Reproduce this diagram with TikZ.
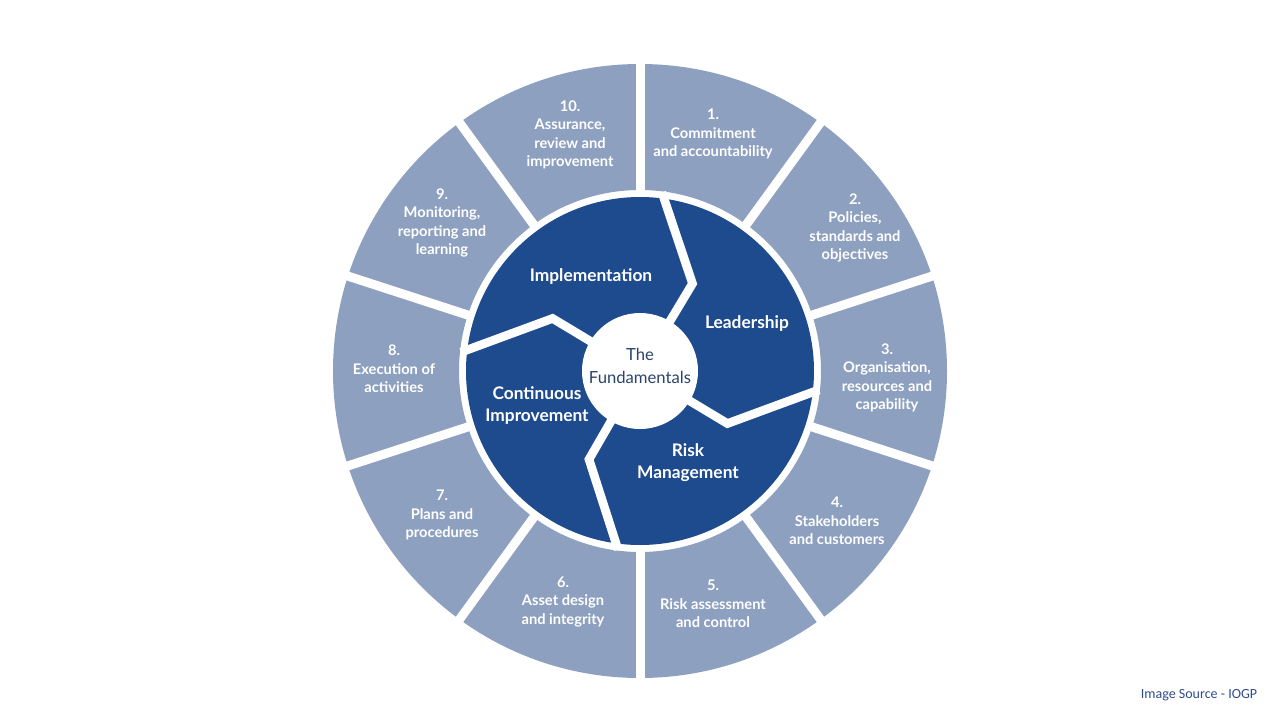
\documentclass[tikz,border=0pt]{standalone}
\usepackage{fontspec}
\setmainfont{Lato}
\newfontfamily\creditfont{Carlito}
\usetikzlibrary{calc}
\definecolor{ring}{RGB}{141,160,192}
\definecolor{core}{RGB}{29,75,141}
\definecolor{hubtext}{RGB}{43,68,110}
\definecolor{credit}{RGB}{46,76,140}
\tikzset{
    element/.style={align=center, text=white, inner sep=0pt, font=\fontsize{11}{13.8}\selectfont\bfseries},
    pillar/.style={align=center, text=white, inner sep=0pt, font=\fontsize{13}{16.5}\selectfont\bfseries},
    hublabel/.style={align=center, text=hubtext, inner sep=0pt, font=\fontsize{12.5}{17}\selectfont},
    gap/.style={white, line width=6.75pt},
    divider/.style={white, line width=6.5pt, line join=miter}
}

\begin{document}
\begin{tikzpicture}[x=0.75pt, y=0.75pt]
    \useasboundingbox (-640,-340) rectangle (640,371);
    % outer ring of ten elements
    \fill[ring, even odd rule] (0,0) circle (307) (0,0) circle (181);
    \foreach \a in {90,54,...,-234} \draw[gap] (\a:176) -- (\a:312);
    % four pillars
    \fill[core] (0,0) circle (174);
    \foreach \b/\e in {59/83, -31/-6, -120/-97, 149/174}
        \draw[divider] (\b:40) -- (\b:102) -- (\e:180);
    \fill[white] (0,0) circle (58);

    \node[element] (e10) at (-70,236) {10.\\Assurance,\\review and\\improvement};
    \node[element] (e1) at (73,237) {1.\\Commitment\\and accountability};
    \node[element] (e2) at (215,143) {2.\\Policies,\\standards and\\objectives};
    \node[element] (e3) at (247,-7) {3.\\Organisation,\\resources and\\capability};
    \node[element] (e4) at (197,-150) {4.\\Stakeholders\\and customers};
    \node[element] (e5) at (73,-233) {5.\\Risk assessment\\and control};
    \node[element] (e6) at (-77,-231) {6.\\Asset design\\and integrity};
    \node[element] (e7) at (-198,-144) {7.\\Plans and\\procedures};
    \node[element] (e8) at (-246,2) {8.\\Execution of\\activities};
    \node[element] (e9) at (-198,148) {9.\\Monitoring,\\reporting and\\learning};

    \node[pillar] (impl) at (-49,94) {Implementation};
    \node[pillar] (lead) at (107,47) {Leadership};
    \node[pillar] (risk) at (48,-92) {Risk\\Management};
    \node[pillar] (cont) at (-103,-35) {Continuous\\Improvement};
    \node[hublabel] (hub) at (0,5) {The\\Fundamentals};

    \node[text=credit, font=\creditfont\fontsize{10.5}{12}\selectfont] (src) at (559,-324) {Image Source - IOGP};
\end{tikzpicture}
\end{document}
